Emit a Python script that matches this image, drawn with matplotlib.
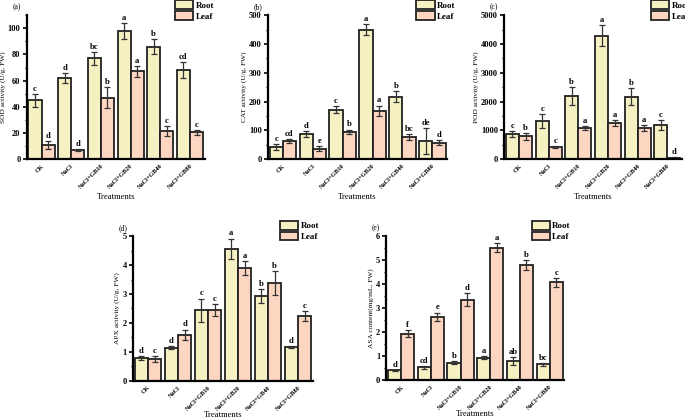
import numpy as np
import matplotlib
matplotlib.use('Agg')
import matplotlib.pyplot as plt
from matplotlib.ticker import AutoMinorLocator

plt.rcParams['font.family'] = ['Liberation Serif', 'DejaVu Serif']
plt.rcParams['font.weight'] = 'bold'

treatments = ['CK', 'NaCl', 'NaCl+GB10', 'NaCl+GB20', 'NaCl+GB40', 'NaCl+GB80']

sod_root = [45, 62, 77, 98, 86, 68]
sod_root_err = [5, 4, 5, 6, 6, 6]
sod_leaf = [11, 7, 47, 67, 21.5, 20.5]
sod_leaf_err = [3, 0.8, 8, 4, 4, 2]
sod_root_let = ['c', 'd', 'bc', 'a', 'b', 'cd']
sod_leaf_let = ['d', 'd', 'b', 'a', 'c', 'c']

cat_root = [42, 88, 172, 450, 217, 63]
cat_root_err = [10, 10, 12, 20, 18, 45]
cat_leaf = [63, 37, 95, 168, 77, 57]
cat_leaf_err = [8, 8, 8, 18, 10, 8]
cat_root_let = ['c', 'd', 'c', 'a', 'b', 'de']
cat_leaf_let = ['cd', 'e', 'b', 'a', 'bc', 'd']

pod_root = [870, 1320, 2190, 4290, 2170, 1180]
pod_root_err = [100, 250, 300, 350, 300, 180]
pod_leaf = [790, 420, 1080, 1250, 1080, 50]
pod_leaf_err = [120, 40, 80, 100, 100, 10]
pod_root_let = ['c', 'c', 'b', 'a', 'b', 'c']
pod_leaf_let = ['b', 'c', 'a', 'a', 'a', 'd']

apx_root = [0.78, 1.15, 2.44, 4.56, 2.93, 1.17]
apx_root_err = [0.07, 0.05, 0.4, 0.35, 0.25, 0.03]
apx_leaf = [0.77, 1.59, 2.44, 3.9, 3.38, 2.24]
apx_leaf_err = [0.1, 0.18, 0.2, 0.25, 0.4, 0.18]
apx_root_let = ['d', 'd', 'c', 'a', 'b', 'd']
apx_leaf_let = ['c', 'd', 'c', 'a', 'b', 'c']

asa_root = [0.4, 0.53, 0.72, 0.93, 0.78, 0.65]
asa_root_err = [0.03, 0.05, 0.06, 0.07, 0.17, 0.06]
asa_leaf = [1.94, 2.63, 3.35, 5.51, 4.79, 4.07]
asa_leaf_err = [0.15, 0.18, 0.28, 0.18, 0.2, 0.18]
asa_root_let = ['d', 'cd', 'b', 'a', 'ab', 'bc']
asa_leaf_let = ['f', 'e', 'd', 'a', 'b', 'c']

root_col = '#F5F1C3'
leaf_col = '#FDD6C2'

fig = plt.figure(figsize=(6.85, 4.2), dpi=100)


def panel(rect, tag, ylabel, ymax, ticks, root, rerr, leaf, lerr, rlet, llet, leg_rect, xl_y):
    ax = fig.add_axes(rect)
    x = np.arange(len(treatments))
    w = 0.44
    ek = dict(ecolor='#333333', elinewidth=0.9, capsize=2, capthick=0.9)
    br = ax.bar(x - w / 2, root, w, yerr=rerr, color=root_col, edgecolor='#222222',
                linewidth=1.3, error_kw=ek, label='Root')
    bl = ax.bar(x + w / 2, leaf, w, yerr=lerr, color=leaf_col, edgecolor='#222222',
                linewidth=1.3, error_kw=ek, label='Leaf')
    for i in range(len(x)):
        ax.text(x[i] - w / 2, root[i] + rerr[i] + ymax * 0.008, rlet[i],
                ha='center', va='bottom', fontsize=6.2)
        ax.text(x[i] + w / 2, leaf[i] + lerr[i] + ymax * 0.008, llet[i],
                ha='center', va='bottom', fontsize=6.2)
    ax.set_xlim(-0.5, 5.5)
    ax.set_ylim(0, ymax)
    ax.set_yticks(ticks)
    ax.yaxis.set_minor_locator(AutoMinorLocator(2))
    ax.set_xticks(x)
    ax.set_xticklabels(treatments, rotation=45, ha='right', rotation_mode='anchor',
                       fontsize=4.5)
    ax.tick_params(axis='y', labelsize=6, width=1.2, length=3, pad=1.5)
    ax.tick_params(axis='y', which='minor', width=1, length=1.8)
    ax.tick_params(axis='x', length=0, pad=3)
    for s in ['top', 'right']:
        ax.spines[s].set_visible(False)
    for s in ['left', 'bottom']:
        ax.spines[s].set_linewidth(1.6)
    ax.set_ylabel(ylabel, fontsize=5.3, labelpad=1.5)
    ax.set_xlabel('Treatments', fontsize=6.2)
    ax.xaxis.set_label_coords(0.5, xl_y)
    ax.text(-0.08, 1.03, tag, transform=ax.transAxes, fontsize=5.5,
            fontweight='normal', ha='left', va='bottom')
    fig.legend(handles=[br, bl], loc='upper left', bbox_to_anchor=leg_rect,
               fontsize=6.5, frameon=False, handlelength=2.0, handleheight=1.1,
               handletextpad=0.3, labelspacing=0.15, borderpad=0, borderaxespad=0)
    return ax


panel([0.039, 0.621, 0.260, 0.343], '(a)', 'SOD activity (U/g, FW)', 110, np.arange(0, 101, 20),
      sod_root, sod_root_err, sod_leaf, sod_leaf_err, sod_root_let, sod_leaf_let,
      (0.255, 0.999), -0.235)
panel([0.391, 0.621, 0.262, 0.343], '(b)', 'CAT activity (U/g, FW)', 500, np.arange(0, 501, 100),
      cat_root, cat_root_err, cat_leaf, cat_leaf_err, cat_root_let, cat_leaf_let,
      (0.608, 0.999), -0.235)
panel([0.736, 0.621, 0.260, 0.343], '(c)', 'POD activity (U/g, FW)', 5000, np.arange(0, 5001, 1000),
      pod_root, pod_root_err, pod_leaf, pod_leaf_err, pod_root_let, pod_leaf_let,
      (0.951, 0.999), -0.235)
panel([0.194, 0.093, 0.263, 0.345], '(d)', 'APX activity (U/g, FW)', 5, np.arange(0, 6, 1),
      apx_root, apx_root_err, apx_leaf, apx_leaf_err, apx_root_let, apx_leaf_let,
      (0.409, 0.474), -0.205)
panel([0.564, 0.095, 0.260, 0.343], '(e)', 'ASA content(mg/mL, FW)', 6, np.arange(0, 7, 1),
      asa_root, asa_root_err, asa_leaf, asa_leaf_err, asa_root_let, asa_leaf_let,
      (0.776, 0.474), -0.205)

fig.savefig('out.png', dpi=100)
